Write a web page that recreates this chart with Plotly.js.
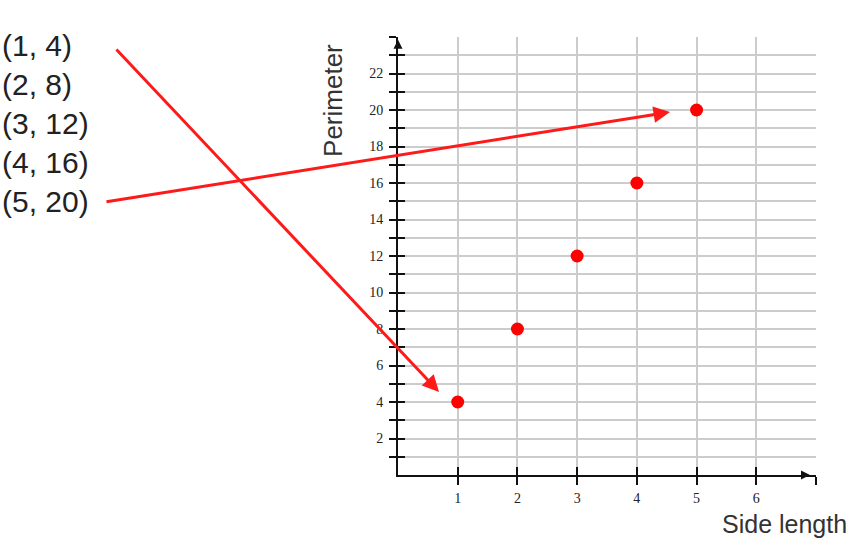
<!DOCTYPE html>
<html>
<head>
<meta charset="utf-8">
<script src="https://cdn.plot.ly/plotly-3.0.1.min.js"></script>
<style>html,body{margin:0;padding:0;background:#fff;}#chart{width:865px;height:548px;}</style>
</head>
<body>
<div id="chart"></div>
<script>
// ---- data ----
const sideLength = [1, 2, 3, 4, 5];
const perimeter = [4, 8, 12, 16, 20];
const xTickVals = [1, 2, 3, 4, 5, 6, 7];
const xTickText = ['1', '2', '3', '4', '5', '6', ''];
const yTickVals = [1, 2, 3, 4, 5, 6, 7, 8, 9, 10, 11, 12, 13, 14, 15, 16, 17, 18, 19, 20, 21, 22, 23, 24];
const yTickText = ['', '2', '', '4', '', '6', '', '8', '', '10', '', '12', '', '14', '', '16', '', '18', '', '20', '', '22', '', ''];
const xRange = [0, 7];
const yRange = [0, 24];
const xTitle = 'Side length';
const yTitle = 'Perimeter';

const pointLabels = sideLength.map((x, i) => '(' + x + ', ' + perimeter[i] + ')');

const tickFont = {family: 'Liberation Serif, Times New Roman, serif', size: 14, color: '#222'};

const traces = [
  {
    x: sideLength, y: perimeter, type: 'scatter', mode: 'markers',
    marker: {color: '#ff0000', size: 13},
    hoverinfo: 'skip', showlegend: false
  },
  {
    x: [], y: [], type: 'scatter', mode: 'markers', xaxis: 'x2', yaxis: 'y2',
    hoverinfo: 'skip', showlegend: false
  }
];

const layout = {
  width: 865, height: 548,
  margin: {l: 398, r: 49, t: 37, b: 73, pad: 0},
  paper_bgcolor: '#ffffff', plot_bgcolor: '#ffffff',
  showlegend: false,
  xaxis: {
    range: xRange, tickvals: xTickVals, ticktext: xTickText,
    ticks: 'outside', ticklen: 8, tickwidth: 2, tickcolor: '#111',
    showline: true, linecolor: '#111', linewidth: 2,
    showgrid: true, gridcolor: '#cccccc', gridwidth: 2,
    zeroline: false, tickfont: tickFont, ticklabelstandoff: 1, fixedrange: true
  },
  yaxis: {
    range: yRange, tickvals: yTickVals, ticktext: yTickText,
    ticks: 'outside', ticklen: 7, tickwidth: 2, tickcolor: '#111',
    showline: true, linecolor: '#111', linewidth: 2,
    showgrid: true, gridcolor: '#cccccc', gridwidth: 2,
    zeroline: false, tickfont: tickFont, ticklabelstandoff: 3, fixedrange: true
  },
  xaxis2: {
    overlaying: 'x', anchor: 'y2', range: xRange, tickvals: xTickVals,
    ticks: 'inside', ticklen: 8, tickwidth: 2, tickcolor: '#111',
    showticklabels: false, showgrid: false, showline: false, zeroline: false, fixedrange: true
  },
  yaxis2: {
    overlaying: 'y', anchor: 'x2', range: yRange, tickvals: yTickVals,
    ticks: 'inside', ticklen: 7, tickwidth: 2, tickcolor: '#111',
    showticklabels: false, showgrid: false, showline: false, zeroline: false, fixedrange: true
  },
  annotations: [
    {
      text: pointLabels.join('<br>'), showarrow: false, align: 'left',
      xref: 'paper', yref: 'paper', x: -0.952, y: 0.803, xanchor: 'left', yanchor: 'middle',
      font: {family: 'Liberation Sans, Arial, sans-serif', size: 30, color: '#222'}
    },
    {
      text: yTitle, showarrow: false, textangle: -90,
      xref: 'paper', yref: 'paper', x: -0.1555, y: 0.854, xanchor: 'center', yanchor: 'middle',
      font: {family: 'Liberation Sans, Arial, sans-serif', size: 26, color: '#333'}
    },
    {
      text: xTitle, showarrow: false,
      xref: 'paper', yref: 'paper', x: 1.079, y: -0.112, xanchor: 'right', yanchor: 'middle',
      font: {family: 'Liberation Sans, Arial, sans-serif', size: 25, color: '#333'}
    },
    {
      text: '', x: 0.687, y: 4.55, xref: 'x', yref: 'y', ax: -324, ay: -344,
      showarrow: true, arrowhead: 2, arrowsize: 1.1, arrowwidth: 3, arrowcolor: '#ff1a1a', standoff: 0
    },
    {
      text: '', x: 4.555, y: 19.89, xref: 'x', yref: 'y', ax: -565, ay: 90,
      showarrow: true, arrowhead: 2, arrowsize: 1.1, arrowwidth: 3, arrowcolor: '#ff1a1a', standoff: 0
    },
    {
      text: '', x: 0, y: 23.85, xref: 'x', yref: 'y', ax: 0, ay: 9,
      showarrow: true, arrowhead: 2, arrowsize: 1.2, arrowwidth: 1.5, arrowcolor: '#111', standoff: 0
    },
    {
      text: '', x: 6.9, y: 0, xref: 'x', yref: 'y', ax: -9, ay: 0,
      showarrow: true, arrowhead: 2, arrowsize: 1.2, arrowwidth: 1.5, arrowcolor: '#111', standoff: 0
    }
  ]
};

Plotly.newPlot('chart', traces, layout, {staticPlot: true, displayModeBar: false});
</script>
</body>
</html>
